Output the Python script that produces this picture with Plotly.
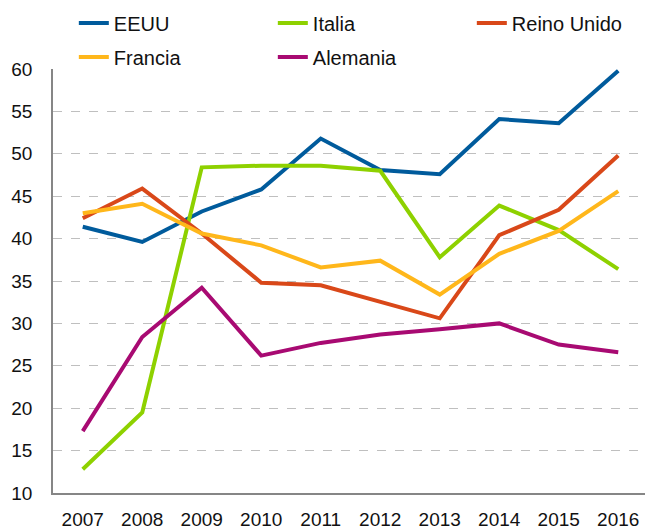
import plotly.graph_objects as go

# data
years = ["2007", "2008", "2009", "2010", "2011", "2012", "2013", "2014", "2015", "2016"]
eeuu = [41.4, 39.6, 43.2, 45.8, 51.8, 48.1, 47.6, 54.1, 53.6, 59.8]
italia = [12.8, 19.5, 48.4, 48.6, 48.6, 48.0, 37.8, 43.9, 41.0, 36.4]
reino_unido = [42.4, 45.9, 40.6, 34.8, 34.5, 32.6, 30.6, 40.4, 43.4, 49.8]
francia = [43.0, 44.1, 40.6, 39.2, 36.6, 37.4, 33.4, 38.2, 40.9, 45.6]
alemania = [17.3, 28.4, 34.2, 26.2, 27.7, 28.7, 29.3, 30.0, 27.5, 26.6]

# name, values, colour, legend row
series = [
    ("EEUU", eeuu, "#005B9C", "legend"),
    ("Italia", italia, "#8ED100", "legend"),
    ("Reino Unido", reino_unido, "#D94819", "legend"),
    ("Francia", francia, "#FFB71B", "legend2"),
    ("Alemania", alemania, "#A80A72", "legend2"),
]

fig = go.Figure()
for name, vals, color, leg in series:
    fig.add_trace(go.Scatter(
        x=years, y=vals, name=name, mode="lines",
        line=dict(color=color, width=4),
        legend=leg,
    ))

# page has an 8px body margin, so the figure is a bit smaller than the window
W, H = 645, 523

legend_style = dict(
    orientation="h",
    x=0.035, xanchor="left",
    yref="container", yanchor="middle",
    entrywidth=154,
    entrywidthmode="pixels",
    font=dict(size=20),
    bgcolor="rgba(0,0,0,0)",
)

fig.update_layout(
    width=W, height=H,
    margin=dict(l=45, r=5, t=61, b=38, autoexpand=False),
    paper_bgcolor="white",
    plot_bgcolor="white",
    font=dict(family="Liberation Sans, Arial, sans-serif", size=19, color="#111111"),
    showlegend=True,
    legend=dict(legend_style, y=1 - 15 / H),
    legend2=dict(legend_style, y=1 - 49 / H),
)

fig.update_xaxes(
    type="category",
    range=[-0.5, 9.5],
    showline=True, linecolor="#868686", linewidth=1.5,
    showgrid=False, ticks="", ticklabelstandoff=8,
    fixedrange=True,
)
fig.update_yaxes(
    range=[10, 60],
    tickvals=[10, 15, 20, 25, 30, 35, 40, 45, 50, 55, 60],
    showline=True, linecolor="#868686", linewidth=1.5,
    showgrid=True, gridcolor="#BFBFBF", griddash="dash", gridwidth=1,
    zeroline=False, ticks="", ticklabelstandoff=15,
    fixedrange=True,
)

fig.write_html("out.html")
